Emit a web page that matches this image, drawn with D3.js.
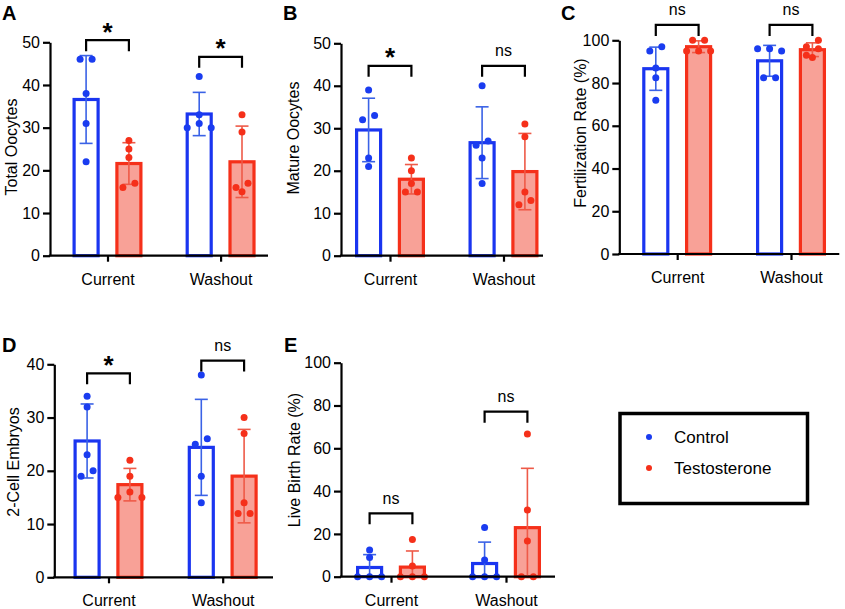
<!DOCTYPE html>
<html><head><meta charset="utf-8">
<script src="https://cdn.jsdelivr.net/npm/d3@7"></script>
<style>
body{margin:0;background:#fff}
svg{display:block}
text{font-family:"Liberation Sans",Arial,Helvetica,sans-serif;fill:#000}
</style>
</head><body>
<svg id="chart" width="845" height="609"></svg>
<script>
// ---------------- data ----------------
const groups = ["Current", "Washout"];
const seriesNames = ["Control", "Testosterone"];

// A: Total Oocytes (per group: Current, Washout)
const totalOocytesControl      = [[46, 46, 38, 31, 22], [42, 33, 31, 30, 30]];
const totalOocytesTestosterone = [[27, 25, 23, 17, 16], [33, 29, 17, 16, 15]];
const totalOocytesSig          = ["*", "*"];

// B: Mature Oocytes
const matureOocytesControl      = [[39, 33, 32, 23, 21], [40, 27, 26, 23, 17]];
const matureOocytesTestosterone = [[23, 20, 17, 15, 15], [31, 28, 15, 13, 12]];
const matureOocytesSig          = ["*", "ns"];

// C: Fertilization Rate (%)
const fertilizationControl      = [[97, 95, 87, 82.5, 72], [96, 96, 95, 82.5, 82.5]];
const fertilizationTestosterone = [[100, 100, 95, 95, 95], [100, 97, 96, 93, 92]];
const fertilizationSig          = ["ns", "ns"];

// D: 2-Cell Embryos
const embryosControl      = [[34, 32, 23, 20, 19], [38, 26, 25, 19, 14]];
const embryosTestosterone = [[22, 19, 16, 15, 15], [30, 27, 14, 12, 12]];
const embryosSig          = ["*", "ns"];

// E: Live Birth Rate (%)
const liveBirthControl      = [[12.5, 9, 0, 0, 0], [23, 7.8, 0, 0, 0]];
const liveBirthTestosterone = [[17.4, 5, 0, 0, 0], [66.7, 31.2, 16.7, 0, 0]];
const liveBirthSig          = ["ns", "ns"];

// ---------------- layout / style ----------------
const COLORS = {
  Control:      {stroke: "#1a35f0", fill: "#ffffff", dot: "#1a3cf0", err: "#3a62e6"},
  Testosterone: {stroke: "#f5301a", fill: "#f8a197", dot: "#f5301a", err: "#ee5a48"}
};

const panels = [
  {letter: "A", title: "Total Oocytes", control: totalOocytesControl, testo: totalOocytesTestosterone, sig: totalOocytesSig,
   yMax: 50, yStep: 10, axisX: 50, yTop: 42.3, y0: 255.7, xEnd: 268, g: [107.5, 220.6],
   titleX: 11, titleY: 147, bracket: [50.5, 46.6], labelX: 2, labelY: 20},
  {letter: "B", title: "Mature Oocytes", control: matureOocytesControl, testo: matureOocytesTestosterone, sig: matureOocytesSig,
   yMax: 50, yStep: 10, axisX: 341, yTop: 43.3, y0: 255.7, xEnd: 543, g: [390, 503.5],
   titleX: 293.5, titleY: 138, bracket: [44.7, 44.7], labelX: 283, labelY: 20},
  {letter: "C", title: "Fertilization Rate (%)", control: fertilizationControl, testo: fertilizationTestosterone, sig: fertilizationSig,
   yMax: 100, yStep: 20, axisX: 619.3, yTop: 40.3, y0: 254, xEnd: 839.3, g: [677.2, 791],
   titleX: 580, titleY: 133, bracket: [107.2, 107.2], labelX: 561, labelY: 20},
  {letter: "D", title: "2-Cell Embryos", control: embryosControl, testo: embryosTestosterone, sig: embryosSig,
   yMax: 40, yStep: 10, axisX: 54.3, yTop: 364.3, y0: 577.3, xEnd: 273, g: [108.5, 222.7],
   titleX: 13, titleY: 462, bracket: [38.3, 40.7], labelX: 2, labelY: 352},
  {letter: "E", title: "Live Birth Rate (%)", control: liveBirthControl, testo: liveBirthTestosterone, sig: liveBirthSig,
   yMax: 100, yStep: 20, axisX: 341, yTop: 362.7, y0: 576.7, xEnd: 555, g: [391, 506],
   titleX: 294, titleY: 460, bracket: [29.6, 77.1], labelX: 284, labelY: 352}
];

const BAR_HALF_SEP = 21.4, BAR_W = 24, BAR_STROKE = 3.2, DOT_R = 3.5, CAP_W = 13;

// horizontal spread of dots (GraphPad-like scatter)
function swarm(values, y, spacing = 12, thresh = 7) {
  const idx = values.map((v, i) => ({v, i})).sort((a, b) => b.v - a.v);
  const off = new Array(values.length).fill(0);
  let k = 0;
  while (k < idx.length) {
    const start = y(idx[k].v);
    let j = k + 1;
    while (j < idx.length && Math.abs(y(idx[j].v) - start) < thresh) j++;
    const cl = idx.slice(k, j), n = cl.length, order = [];
    if (n % 2 === 1) { order.push(0); for (let m = 1; order.length < n; m++) order.push(-m, m); }
    else { for (let m = 0; order.length < n; m++) order.push(m + 0.5, -(m + 0.5)); }
    cl.forEach((d, q) => off[d.i] = order[q] * spacing);
    k = j;
  }
  return off;
}

const svg = d3.select("#chart");

panels.forEach(p => {
  const g = svg.append("g");
  const y = d3.scaleLinear().domain([0, p.yMax]).range([p.y0, p.yTop]);
  const x = d3.scalePoint().domain(groups).range(p.g);
  const xs = d3.scalePoint().domain(seriesNames).range([-BAR_HALF_SEP, BAR_HALF_SEP]);

  const sets = [];
  groups.forEach((grp, gi) => {
    seriesNames.forEach(s => {
      const vals = (s === "Control" ? p.control : p.testo)[gi];
      sets.push({grp, s, vals, mean: d3.mean(vals), sd: d3.deviation(vals), cx: x(grp) + xs(s)});
    });
  });

  // bars
  g.selectAll("rect.bar").data(sets).join("rect")
    .attr("class", "bar")
    .attr("x", d => d.cx - BAR_W / 2).attr("width", BAR_W)
    .attr("y", d => y(d.mean)).attr("height", d => y(0) - y(d.mean))
    .attr("fill", d => COLORS[d.s].fill)
    .attr("stroke", d => COLORS[d.s].stroke).attr("stroke-width", BAR_STROKE);

  // error bars (mean ± SD), clipped at 0
  sets.forEach(d => {
    const hi = d.mean + d.sd, lo = Math.max(0, d.mean - d.sd);
    const c = COLORS[d.s].err;
    g.append("line").attr("x1", d.cx).attr("x2", d.cx).attr("y1", y(hi)).attr("y2", y(lo))
      .attr("stroke", c).attr("stroke-width", 1.6);
    g.append("line").attr("x1", d.cx - CAP_W / 2).attr("x2", d.cx + CAP_W / 2)
      .attr("y1", y(hi)).attr("y2", y(hi)).attr("stroke", c).attr("stroke-width", 1.6);
    if (d.mean - d.sd > 0) {
      g.append("line").attr("x1", d.cx - CAP_W / 2).attr("x2", d.cx + CAP_W / 2)
        .attr("y1", y(lo)).attr("y2", y(lo)).attr("stroke", c).attr("stroke-width", 1.6);
    }
  });

  // dots
  sets.forEach(d => {
    const off = swarm(d.vals, y);
    g.selectAll(null).data(d.vals).join("circle")
      .attr("cx", (v, i) => d.cx + off[i]).attr("cy", v => y(v))
      .attr("r", DOT_R).attr("fill", COLORS[d.s].dot);
  });

  // y axis
  const yAxis = g.append("g").attr("transform", `translate(${p.axisX},0)`)
    .call(d3.axisLeft(y).tickValues(d3.range(0, p.yMax + 0.001, p.yStep)).tickSize(7).tickSizeOuter(0).tickPadding(3));
  yAxis.select(".domain").attr("stroke-width", 2.2);
  yAxis.selectAll(".tick line").attr("stroke-width", 2.2);
  yAxis.selectAll(".tick text").attr("font-size", 16);
  yAxis.attr("font-family", null);

  // x axis
  const xAxis = g.append("g").attr("transform", `translate(0,${p.y0})`)
    .call(d3.axisBottom(x).tickSize(6).tickSizeOuter(0).tickPadding(11.6));
  xAxis.select(".domain").remove();
  xAxis.attr("font-family", null);
  xAxis.selectAll(".tick line").attr("stroke-width", 2.2);
  xAxis.selectAll(".tick text").attr("font-size", 16);
  g.append("line").attr("x1", p.axisX - 1.1).attr("x2", p.xEnd).attr("y1", p.y0).attr("y2", p.y0)
    .attr("stroke", "#000").attr("stroke-width", 2.2);

  // axis title
  g.append("text").attr("transform", `translate(${p.titleX},${p.titleY}) rotate(-90)`)
    .attr("text-anchor", "middle").attr("dominant-baseline", "central")
    .attr("font-size", 16).text(p.title);

  // panel letter
  g.append("text").attr("x", p.labelX).attr("y", p.labelY)
    .attr("font-size", 20).attr("font-weight", "bold").text(p.letter);

  // significance brackets
  groups.forEach((grp, gi) => {
    const yb = y(p.bracket[gi]);
    const x1 = x(grp) + xs("Control"), x2 = x(grp) + xs("Testosterone");
    g.append("path").attr("d", `M${x1},${yb + 11}V${yb}H${x2}V${yb + 11}`)
      .attr("fill", "none").attr("stroke", "#000").attr("stroke-width", 2.2);
    const lab = p.sig[gi];
    const t = g.append("text").attr("x", (x1 + x2) / 2).attr("text-anchor", "middle").text(lab);
    if (lab === "*") t.attr("font-size", 26).attr("font-weight", "bold").attr("y", yb + 0.5);
    else t.attr("font-size", 16).attr("y", yb - 9.8);
  });
});

// legend
const lg = svg.append("g");
lg.append("rect").attr("x", 620).attr("y", 413.5).attr("width", 187.5).attr("height", 90)
  .attr("fill", "#fff").attr("stroke", "#000").attr("stroke-width", 3.5);
const legendY = d3.scalePoint().domain(seriesNames).range([437, 468]);
seriesNames.forEach(s => {
  lg.append("circle").attr("cx", 649).attr("cy", legendY(s)).attr("r", 3).attr("fill", COLORS[s].dot);
  lg.append("text").attr("x", 674).attr("y", legendY(s) + 6).attr("font-size", 17).text(s);
});
</script>
</body></html>
